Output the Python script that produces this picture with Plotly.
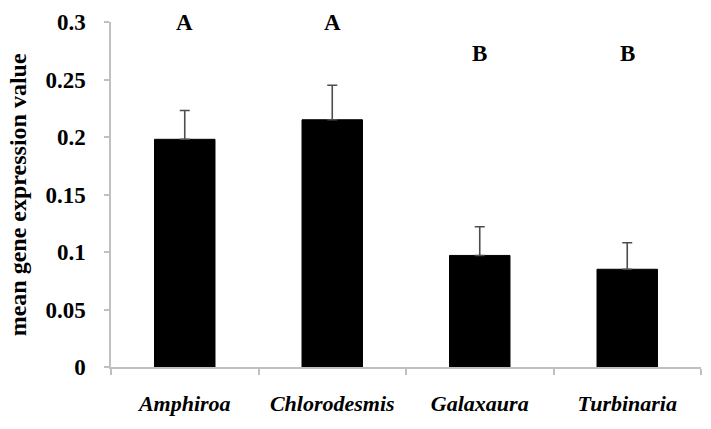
import plotly.graph_objects as go

# data
species = ["Amphiroa", "Chlorodesmis", "Galaxaura", "Turbinaria"]
mean_expr = [0.198, 0.215, 0.097, 0.085]
err_up = [0.025, 0.030, 0.025, 0.023]
groups = ["A", "A", "B", "B"]
group_y = [0.2995, 0.2995, 0.273, 0.273]
y_ticks = [0, 0.05, 0.1, 0.15, 0.2, 0.25, 0.3]
y_tick_text = ["0", "0.05", "0.1", "0.15", "0.2", "0.25", "0.3"]

serif = "Liberation Serif, Times New Roman, serif"

fig = go.Figure()
fig.add_trace(go.Bar(
    x=species,
    y=mean_expr,
    marker=dict(color="black", line=dict(color="black", width=1)),
    error_y=dict(type="data", array=err_up, arrayminus=[0] * len(err_up),
                 symmetric=False, color="#4d4d4d", thickness=1.6, width=5),
    showlegend=False,
))

# significance letters
for sp, g, gy in zip(species, groups, group_y):
    fig.add_annotation(x=sp, y=gy, text="<b>%s</b>" % g, showarrow=False,
                       font=dict(family=serif, size=23, color="black"))

# y axis title
fig.add_annotation(xref="paper", yref="paper", x=-0.158, y=0.5,
                   xanchor="center", yanchor="middle",
                   text="<b>mean gene expression value</b>", textangle=-90,
                   showarrow=False, font=dict(family=serif, size=24, color="black"))

fig.update_layout(
    width=711, height=429,
    margin=dict(l=111, r=10, t=17, b=62),
    paper_bgcolor="white", plot_bgcolor="white",
    bargap=0.59,
    xaxis=dict(
        showline=True, linecolor="#c0c0c0", linewidth=1.5,
        ticks="outside", tickson="boundaries", ticklen=6, tickcolor="#c0c0c0",
        tickwidth=1.5, showgrid=False, ticklabelstandoff=16,
        tickfont=dict(family=serif, size=22, color="black"),
        tickvals=species,
        ticktext=["<b><i>%s</i></b>" % s for s in species],
    ),
    yaxis=dict(
        range=[0, 0.3], showline=True, linecolor="#c0c0c0", linewidth=1.5,
        ticks="outside", ticklen=5, tickcolor="#c0c0c0", tickwidth=1.5,
        showgrid=False, zeroline=False, ticklabelstandoff=14,
        tickvals=y_ticks, ticktext=["<b>%s</b>" % t for t in y_tick_text],
        tickfont=dict(family=serif, size=23, color="black"),
    ),
)

# drop the browser's default page margin so the figure sits at the corner
fig.write_html("out.html", config={"displayModeBar": False},
               post_script="document.body.style.margin='0';")
